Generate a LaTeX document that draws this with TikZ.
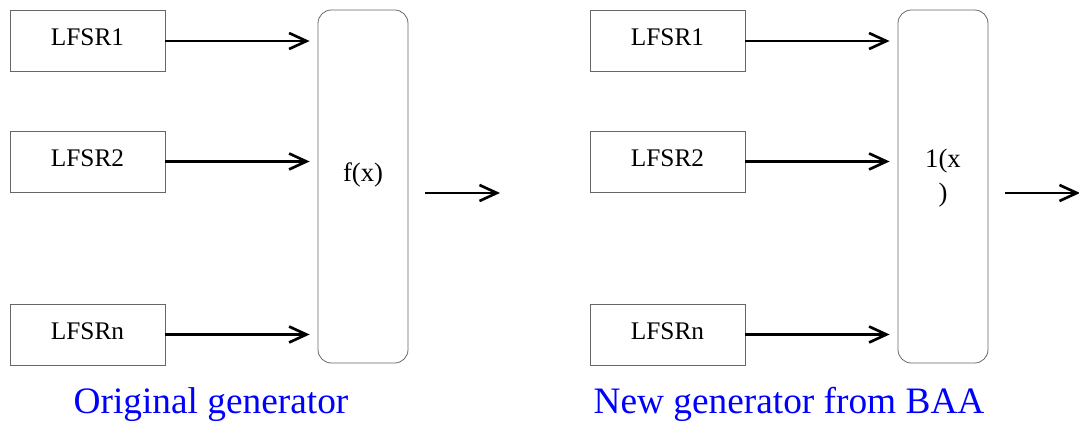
\documentclass[tikz,border=0pt]{standalone}
\usepackage{fontspec}
\setmainfont{Liberation Serif}
\usetikzlibrary{arrows.meta}

\begin{document}
\begin{tikzpicture}[x=0.75pt,y=-0.75pt,
  reg/.style={draw=black!60, line width=0.6pt, inner sep=0pt,
    minimum width=116.25pt, minimum height=45.75pt,
    font=\rmfamily\fontsize{19}{23}\selectfont, text height=12pt, text depth=4.5pt},
  combiner/.style={draw=black!60, line width=0.6pt, rounded corners=10pt,
    inner sep=0pt, minimum width=67.5pt, minimum height=264.75pt},
  fn/.style={font=\rmfamily\fontsize{20}{25.5}\selectfont, inner sep=0pt},
  feed/.style={-{Straight Barb[length=13pt,width=12pt]}, line width=2pt},
  caption/.style={text=blue, font=\rmfamily\fontsize{28}{34}\selectfont,
    anchor=base, inner sep=0pt}]
\useasboundingbox (0,0) rectangle (1079,423);

% ---- original generator ----
\node[reg] (a1) at (87.5,41)    {LFSR1};
\node[reg] (a2) at (87.5,161.5) {LFSR2};
\node[reg] (an) at (87.5,334.5) {LFSRn};
\node[combiner] (fa) at (363,186.5) {};
\node[fn, anchor=base] (fat) at (363,182) {f(x)};
\foreach \r in {a1,a2,an}
  \draw[feed, shorten >=6pt] (\r.east) -- (\r.east -| fa.west);
\coordinate (oas) at (425,193);
\coordinate (oae) at (500,193);
\draw[feed] (oas) -- (oae);
\node[caption] (capa) at (211,414) {Original generator};

% ---- generator from BAA ----
\node[reg] (b1) at (667.5,41)    {LFSR1};
\node[reg] (b2) at (667.5,161.5) {LFSR2};
\node[reg] (bn) at (667.5,334.5) {LFSRn};
\node[combiner] (fb) at (943,186.5) {};
\node[fn, align=center, anchor=base] (fbt) at (943,202) {1(x\\)};
\foreach \r in {b1,b2,bn}
  \draw[feed, shorten >=6pt] (\r.east) -- (\r.east -| fb.west);
\coordinate (obs) at (1005,193);
\coordinate (obe) at (1080,193);
\draw[feed] (obs) -- (obe);
\node[caption] (capb) at (789,414) {New generator from BAA};
\end{tikzpicture}
\end{document}
